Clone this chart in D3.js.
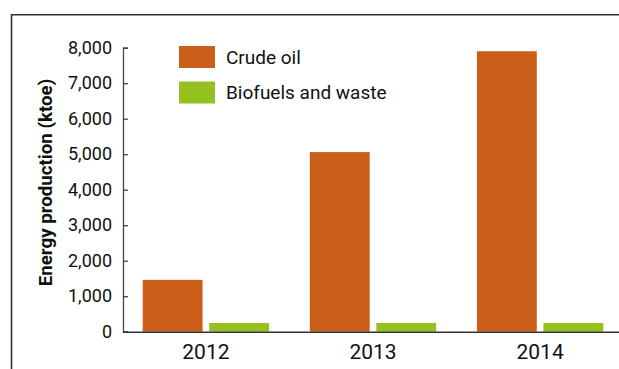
<!DOCTYPE html>
<html><head><meta charset="utf-8">
<script src="https://cdn.jsdelivr.net/npm/d3@7"></script>
<style>body{margin:0;background:#fff}svg{display:block;font-family:Roboto,"Noto Sans",sans-serif}</style>
</head><body>
<svg id="c" width="619" height="369"></svg>
<script>
const years = ["2012", "2013", "2014"];
const seriesNames = ["Crude oil", "Biofuels and waste"];
const crudeOil = [1460, 5060, 7900];
const biofuels = [245, 245, 245];
const yTicks = [0, 1000, 2000, 3000, 4000, 5000, 6000, 7000, 8000];
const colors = ["#CB5F1A", "#94C11F"];
const yTitle = "Energy production (ktoe)";

(function () {
const svg = d3.select("#c");
const pLeft = 123, pRight = 623, pTop = 47.7, pBottom = 331.7;

// frame
svg.append("line").attr("x1", 11.5).attr("x2", 619).attr("y1", 14.7).attr("y2", 14.7).attr("stroke", "#333").attr("stroke-width", 1.6);
svg.append("line").attr("x1", 11.5).attr("x2", 11.5).attr("y1", 14).attr("y2", 369).attr("stroke", "#333").attr("stroke-width", 1.6);

const x0 = d3.scaleBand().domain(years).range([pLeft, pRight]).paddingInner(0.244).paddingOuter(0.118);
const x1 = d3.scaleBand().domain(seriesNames).range([0, x0.bandwidth()]).paddingInner(0.1);
const y = d3.scaleLinear().domain([0, 8000]).range([pBottom, pTop]);

const data = years.map((yr, i) => ({year: yr, values: [crudeOil[i], biofuels[i]]}));

const g = svg.append("g");
data.forEach(d => {
  d.values.forEach((v, j) => {
    g.append("rect")
      .attr("x", x0(d.year) + x1(seriesNames[j]))
      .attr("y", y(v))
      .attr("width", x1.bandwidth())
      .attr("height", y(0) - y(v))
      .attr("fill", colors[j]);
  });
});

// y axis
const ya = svg.append("g").attr("transform", `translate(${pLeft},0)`)
  .call(d3.axisLeft(y).tickValues(yTicks).tickSize(-5).tickPadding(11).tickFormat(d3.format(",")));
ya.selectAll("path,line").attr("stroke", "#444").attr("stroke-width", 1.3);
ya.selectAll("text").attr("font-size", 18).attr("fill", "#111").attr("font-family", "Roboto");

// x axis
const xa = svg.append("g").attr("transform", `translate(0,${pBottom})`)
  .call(d3.axisBottom(x0).tickSize(0).tickPadding(12));
xa.select(".domain").attr("d", `M${pLeft},0.5H619`).attr("stroke", "#333").attr("stroke-width", 1.5);
xa.selectAll("text").attr("font-size", 21).attr("fill", "#111").attr("font-family", "Roboto");

// y title
svg.append("text")
  .attr("transform", `translate(51.5,182.5) rotate(-90)`)
  .attr("text-anchor", "middle")
  .attr("font-size", 18.7).attr("font-weight", "bold").attr("fill", "#111")
  .text(yTitle);

// legend
const leg = svg.append("g");
seriesNames.forEach((s, i) => {
  const yy = 46 + i * 35.5;
  leg.append("rect").attr("x", 179).attr("y", yy).attr("width", 36).attr("height", 22).attr("fill", colors[i]);
  leg.append("text").attr("x", 226).attr("y", yy + 11).attr("dy", "0.35em")
    .attr("font-size", 19).attr("fill", "#111").text(s);
});
})();
</script>
</body></html>
